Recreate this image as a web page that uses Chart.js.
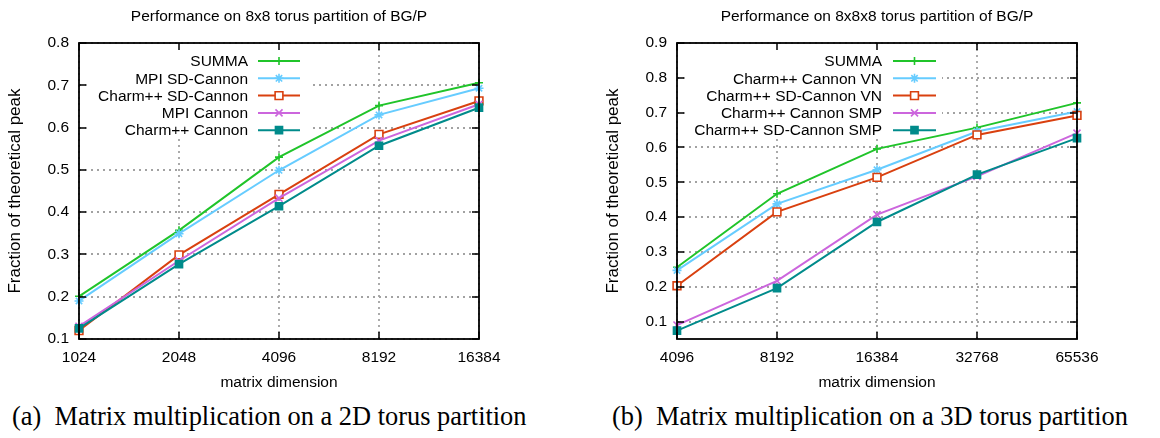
<!DOCTYPE html>
<html>
<head>
<meta charset="utf-8">
<script src="https://cdn.jsdelivr.net/npm/chart.js@4.4.0/dist/chart.umd.min.js"></script>
<style>
  body { margin: 0; background: #fff; width: 1160px; height: 438px; overflow: hidden; position: relative; }
  .panel { position: absolute; top: 0; width: 580px; height: 395px; }
  .cap { position: absolute; top: 403px; font: 26.4px "Liberation Serif", serif; line-height: 26px; white-space: nowrap; color: #000; }
</style>
</head>
<body>
<div class="panel" style="left:0"><canvas id="chart2d"></canvas></div>
<div class="panel" style="left:580px"><canvas id="chart3d"></canvas></div>
<div class="cap" style="left:12px">(a)&nbsp; Matrix multiplication on a 2D torus partition</div>
<div class="cap" style="left:612px">(b)&nbsp; Matrix multiplication on a 3D torus partition</div>
<script>
// values
var dims2d = ['1024', '2048', '4096', '8192', '16384'];
var summa2d = [0.201, 0.357, 0.530, 0.652, 0.706];
var mpiSdCannon2d = [0.190, 0.349, 0.499, 0.630, 0.693];
var charmSdCannon2d = [0.120, 0.299, 0.442, 0.584, 0.663];
var mpiCannon2d = [0.130, 0.285, 0.433, 0.569, 0.655];
var charmCannon2d = [0.125, 0.277, 0.414, 0.557, 0.647];
var yTicks2d = [0.1, 0.2, 0.3, 0.4, 0.5, 0.6, 0.7, 0.8];

var dims3d = ['4096', '8192', '16384', '32768', '65536'];
var summa3d = [0.256, 0.467, 0.596, 0.657, 0.728];
var charmCannonVN3d = [0.247, 0.438, 0.536, 0.646, 0.703];
var charmSdCannonVN3d = [0.203, 0.415, 0.514, 0.636, 0.692];
var charmCannonSMP3d = [0.090, 0.217, 0.407, 0.517, 0.641];
var charmSdCannonSMP3d = [0.074, 0.196, 0.386, 0.522, 0.627];
var yTicks3d = [0.1, 0.2, 0.3, 0.4, 0.5, 0.6, 0.7, 0.8, 0.9];

var FONT = '"Liberation Sans", Arial, sans-serif';
var styles = [
    { color: '#20c42a', pointStyle: 'cross', radius: 4, fill: '#20c42a' },
    { color: '#66ccff', pointStyle: 'star', radius: 4.5, fill: '#66ccff' },
    { color: '#d9400f', pointStyle: 'rect', radius: 5.5, fill: '#ffffff' },
    { color: '#cc66dd', pointStyle: 'crossRot', radius: 5, fill: '#cc66dd' },
    { color: '#008b8b', pointStyle: 'rect', radius: 5, fill: '#008b8b' }
];

function makeSets(names, series) {
    return series.map(function (vals, i) {
        var s = styles[i];
        return {
            label: names[i],
            data: vals,
            borderColor: s.color,
            backgroundColor: s.fill,
            borderWidth: 2,
            pointStyle: s.pointStyle,
            pointRadius: s.radius,
            pointBorderWidth: 1.6,
            pointBorderColor: s.color,
            pointBackgroundColor: s.fill,
            tension: 0,
            order: series.length - i
        };
    });
}

// gnuplot look: dotted grid, opaque key, full frame, inward mirror ticks, title over the plot
var gnuplotLook = {
    id: 'gnuplotLook',
    beforeDatasetsDraw: function (chart, args, o) {
        var ctx = chart.ctx;
        var a = chart.chartArea;
        var xs = chart.scales.x, ys = chart.scales.y;
        ctx.save();
        ctx.strokeStyle = '#a2a2a2';
        ctx.lineWidth = 1.8;
        ctx.setLineDash([2, 4]);
        ctx.beginPath();
        xs.ticks.forEach(function (t, i) {
            var x = Math.round(xs.getPixelForTick(i));
            ctx.moveTo(x, a.bottom); ctx.lineTo(x, a.top);
        });
        ys.ticks.forEach(function (t) {
            var y = Math.round(ys.getPixelForValue(t.value));
            ctx.moveTo(a.left, y); ctx.lineTo(a.right, y);
        });
        ctx.stroke();
        ctx.setLineDash([]);
        ctx.fillStyle = '#fff';
        ctx.fillRect(o.box[0], o.box[1], o.box[2] - o.box[0], o.box[3] - o.box[1]);
        ctx.restore();
    },
    afterDatasetsDraw: function (chart, args, o) {
        var ctx = chart.ctx;
        var a = chart.chartArea;
        var xs = chart.scales.x, ys = chart.scales.y;
        ctx.save();
        // key entries
        ctx.font = '15.5px ' + FONT;
        ctx.textAlign = 'right';
        ctx.textBaseline = 'middle';
        chart.data.datasets.forEach(function (ds, i) {
            var y = o.rowY + i * o.rowGap;
            ctx.fillStyle = '#000';
            ctx.fillText(ds.label, o.textRight, y + 1);
            ctx.strokeStyle = ds.borderColor;
            ctx.lineWidth = 2;
            ctx.beginPath();
            ctx.moveTo(o.line[0], y);
            ctx.lineTo(o.line[1], y);
            ctx.stroke();
            ctx.lineWidth = ds.pointBorderWidth;
            ctx.fillStyle = ds.pointBackgroundColor;
            Chart.helpers.drawPoint(ctx, { pointStyle: ds.pointStyle, radius: ds.pointRadius, rotation: 0, borderWidth: ds.pointBorderWidth }, (o.line[0] + o.line[1]) / 2, y);
        });
        // inward ticks on all four sides
        ctx.strokeStyle = '#000';
        ctx.lineWidth = 1.5;
        ctx.beginPath();
        xs.ticks.forEach(function (t, i) {
            var x = Math.round(xs.getPixelForTick(i));
            ctx.moveTo(x, a.bottom); ctx.lineTo(x, a.bottom - 7);
            ctx.moveTo(x, a.top); ctx.lineTo(x, a.top + 7);
        });
        ys.ticks.forEach(function (t) {
            var y = Math.round(ys.getPixelForValue(t.value));
            ctx.moveTo(a.left, y); ctx.lineTo(a.left + 7, y);
            ctx.moveTo(a.right, y); ctx.lineTo(a.right - 7, y);
        });
        ctx.stroke();
        ctx.lineWidth = 1.8;
        ctx.strokeRect(a.left, a.top, a.right - a.left, a.bottom - a.top);
        // title
        ctx.font = '15.5px ' + FONT;
        ctx.textAlign = 'center';
        ctx.fillStyle = '#000';
        ctx.fillText(o.title, (a.left + a.right) / 2, 17);
        ctx.restore();
    }
};

function buildChart(id, labels, sets, yTicks, yMin, yMax, look) {
    return new Chart(document.getElementById(id), {
        type: 'line',
        data: { labels: labels, datasets: sets },
        plugins: [gnuplotLook],
        options: {
            responsive: true,
            maintainAspectRatio: false,
            animation: false,
            events: [],
            layout: { padding: { top: 43, left: 0, right: look.padRight, bottom: 0 } },
            plugins: {
                legend: { display: false },
                tooltip: { enabled: false },
                gnuplotLook: look
            },
            scales: {
                x: {
                    type: 'category',
                    offset: false,
                    grid: { display: false, drawTicks: false },
                    border: { display: false },
                    ticks: { color: '#000', font: { family: FONT, size: 15.5 }, padding: 9, maxRotation: 0, autoSkip: false },
                    title: { display: true, text: 'matrix dimension', color: '#000', font: { family: FONT, size: 15.5 }, padding: { top: 0, bottom: 3 } },
                    afterFit: function (s) { s.height = 56; }
                },
                y: {
                    min: yMin,
                    max: yMax,
                    grid: { display: false, drawTicks: false },
                    border: { display: false },
                    afterBuildTicks: function (s) { s.ticks = yTicks.map(function (v) { return { value: v }; }); },
                    ticks: {
                        color: '#000', font: { family: FONT, size: 15.5 }, padding: 10,
                        callback: function (v) { return v.toFixed(1); }
                    },
                    title: { display: true, text: 'Fraction of theoretical peak', color: '#000', font: { family: FONT, size: 17 }, padding: { top: look.yTitlePad, bottom: 0 } },
                    afterFit: function (s) { s.width = look.yWidth; }
                }
            }
        }
    });
}

buildChart('chart2d', dims2d,
    makeSets(['SUMMA', 'MPI SD-Cannon', 'Charm++ SD-Cannon', 'MPI Cannon', 'Charm++ Cannon'],
        [summa2d, mpiSdCannon2d, charmSdCannon2d, mpiCannon2d, charmCannon2d]),
    yTicks2d, 0.1, 0.8,
    { title: 'Performance on 8x8 torus partition of BG/P', padRight: 101, yWidth: 79, yTitlePad: 5,
      textRight: 248, line: [258, 300], rowY: 61, rowGap: 17.3, box: [90, 44, 309, 139] });

buildChart('chart3d', dims3d,
    makeSets(['SUMMA', 'Charm++ Cannon VN', 'Charm++ SD-Cannon VN', 'Charm++ Cannon SMP', 'Charm++ SD-Cannon SMP'],
        [summa3d, charmCannonVN3d, charmSdCannonVN3d, charmCannonSMP3d, charmSdCannonSMP3d]),
    yTicks3d, 0.05, 0.9,
    { title: 'Performance on 8x8x8 torus partition of BG/P', padRight: 83, yWidth: 97, yTitlePad: 23,
      textRight: 302, line: [313, 356], rowY: 61, rowGap: 17.3, box: [106, 44, 362, 139] });
</script>
</body>
</html>
